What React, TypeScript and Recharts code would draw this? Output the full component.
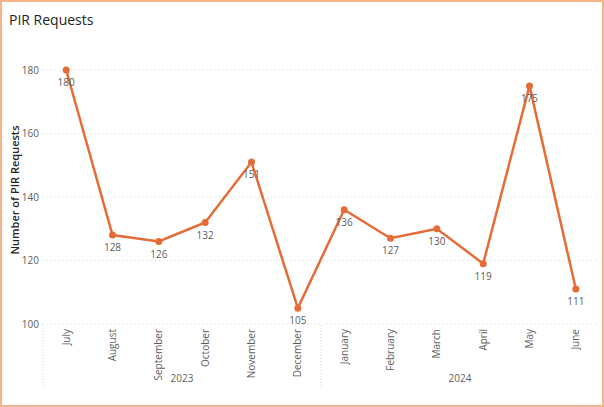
import React from "react";
import {
  LineChart,
  Line,
  XAxis,
  YAxis,
  CartesianGrid,
  LabelList,
} from "recharts";

// PIR requests per month, Jul 2023 - Jun 2024
const MONTHS = [
  "July",
  "August",
  "September",
  "October",
  "November",
  "December",
  "January",
  "February",
  "March",
  "April",
  "May",
  "June",
];
const YEARS = ["2023", "2023", "2023", "2023", "2023", "2023", "2024", "2024", "2024", "2024", "2024", "2024"];
const YEAR_TICKS = ["2023", "2024"];
const REQUESTS = [180, 128, 126, 132, 151, 105, 136, 127, 130, 119, 175, 111];
const Y_TICKS = [100, 120, 140, 160, 180];

const data = MONTHS.map((m, i) => ({ month: m, year: YEARS[i], requests: REQUESTS[i] }));

const FONT = "'Segoe UI', 'Open Sans', sans-serif";
const LINE = "#E66C37";
const TEXT = "#605E5C";
const YEAR_HALF = (604 - 43 - 5) / 4;

const MonthTick = (props: any) => {
  const { x, y, payload } = props;
  return (
    <text
      x={0}
      y={0}
      transform={`translate(${x + 3.5},${y + 5}) rotate(-90)`}
      textAnchor="end"
      fontSize={10}
      fill={TEXT}
      fontFamily={FONT}
    >
      {payload.value}
    </text>
  );
};

const YearTick = (props: any) => {
  const { x, y, payload } = props;
  return (
    <g>
      <line
        x1={x - YEAR_HALF}
        x2={x - YEAR_HALF}
        y1={y - 44}
        y2={y + 18}
        stroke="#d0d0d0"
        strokeDasharray="1 2"
      />
      <text x={x} y={y + 13} textAnchor="middle" fontSize={10} fill={TEXT} fontFamily={FONT}>
        {payload.value}
      </text>
    </g>
  );
};

const YLabel = () => (
  <text
    x={0}
    y={0}
    transform="translate(19,190) rotate(-90)"
    textAnchor="middle"
    fontSize={11}
    fontWeight={600}
    fill="#252423"
    fontFamily={FONT}
  >
    Number of PIR Requests
  </text>
);

export default function App() {
  return (
    <div style={{ position: "absolute", left: 0, top: 0, width: 604, height: 407, background: "#fff" }}>
      <div
        style={{
          position: "absolute",
          left: 9,
          top: 10,
          fontFamily: FONT,
          fontSize: 14,
          color: "#252423",
        }}
      >
        PIR Requests
      </div>
      <LineChart
        width={604}
        height={407}
        data={data}
        margin={{ top: 70, right: 5, bottom: 13, left: 0 }}
      >
        <CartesianGrid vertical={false} stroke="#dcdcdc" strokeDasharray="1 3" />
        <XAxis
          dataKey="month"
          scale="band"
          interval={0}
          axisLine={false}
          tickLine={false}
          tickSize={0}
          tickMargin={0}
          height={45}
          tick={<MonthTick />}
        />
        <XAxis
          xAxisId="year"
          dataKey="year"
          scale="band"
          allowDuplicatedCategory={false}
          ticks={YEAR_TICKS}
          interval={0}
          axisLine={false}
          tickLine={false}
          tickSize={0}
          tickMargin={0}
          height={25}
          tick={<YearTick />}
        />
        <YAxis
          domain={[100, 180]}
          ticks={Y_TICKS}
          width={43}
          axisLine={false}
          tickLine={false}
          tickSize={0}
          tickMargin={4}
          tick={{ fontSize: 10, fill: TEXT, fontFamily: FONT }}
          label={<YLabel />}
        />
        <Line
          type="linear"
          dataKey="requests"
          stroke={LINE}
          strokeWidth={2.5}
          dot={{ r: 3.5, fill: LINE, stroke: LINE, strokeWidth: 0 }}
          activeDot={false}
          isAnimationActive={false}
        >
          <LabelList
            dataKey="requests"
            position="bottom"
            offset={9}
            fontSize={10}
            fill={TEXT}
            fontFamily={FONT}
          />
        </Line>
      </LineChart>
      <div
        style={{
          position: "absolute",
          left: 0,
          top: 0,
          width: 604,
          height: 407,
          boxSizing: "border-box",
          border: "2px solid #F6B48A",
          pointerEvents: "none",
        }}
      />
    </div>
  );
}
